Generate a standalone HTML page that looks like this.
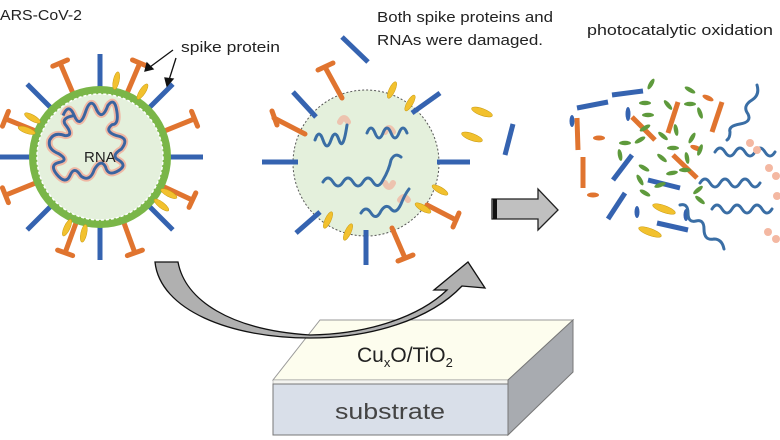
<!DOCTYPE html>
<html><head><meta charset="utf-8"><style>
html,body{margin:0;padding:0;background:#fff;}
svg{display:block;font-family:"Liberation Sans",sans-serif;}
</style></head><body>
<svg width="780" height="440" viewBox="0 0 780 440" xmlns="http://www.w3.org/2000/svg">
<defs>
<g id="bs"><line x1="0" y1="-68" x2="0" y2="-103" stroke="#3563b0" stroke-width="5"/></g>
<g id="os"><line x1="0" y1="-68" x2="0" y2="-101" stroke="#e0742f" stroke-width="5"/><line x1="-8" y1="-102" x2="8" y2="-102" stroke="#e0742f" stroke-width="5" stroke-linecap="round"/></g>
<g id="ys"><ellipse cx="0" cy="-78" rx="3" ry="9" fill="#f2c12e" stroke="#c89a10" stroke-width="0.5"/></g>
<g id="g"><ellipse rx="6" ry="2.2" fill="#5e9a3c"/></g>
</defs>

<text x="0" y="20" font-size="15" fill="#222" textLength="82" lengthAdjust="spacingAndGlyphs">ARS-CoV-2</text>
<text x="181" y="52" font-size="15" fill="#222" textLength="99" lengthAdjust="spacingAndGlyphs">spike protein</text>
<text x="377" y="22" font-size="15" fill="#222" textLength="176" lengthAdjust="spacingAndGlyphs">Both spike proteins and</text>
<text x="377" y="45" font-size="15" fill="#222" textLength="166" lengthAdjust="spacingAndGlyphs">RNAs were damaged.</text>
<text x="587" y="35" font-size="15" fill="#222" textLength="186" lengthAdjust="spacingAndGlyphs">photocatalytic oxidation</text>

<g transform="translate(100,157)">
 <use href="#bs" transform="rotate(0)"/><use href="#os" transform="rotate(23)"/>
 <use href="#bs" transform="rotate(45)"/><use href="#os" transform="rotate(68)"/>
 <use href="#bs" transform="rotate(90)"/><use href="#os" transform="rotate(115)"/>
 <use href="#bs" transform="rotate(135)"/><use href="#os" transform="rotate(160)"/>
 <use href="#bs" transform="rotate(180)"/><use href="#os" transform="rotate(200)"/>
 <use href="#bs" transform="rotate(225)"/><use href="#os" transform="rotate(248)"/>
 <use href="#bs" transform="rotate(270)"/><use href="#os" transform="rotate(292)"/>
 <use href="#bs" transform="rotate(315)"/><use href="#os" transform="rotate(337)"/>
 <circle r="71" fill="#7ab648"/>
 <circle r="63" fill="#e4f0dc" stroke="#fff" stroke-width="1.5" stroke-dasharray="3 2"/>
 <use href="#ys" transform="rotate(12)"/><use href="#ys" transform="rotate(33)"/>
 <use href="#ys" transform="rotate(118)"/><use href="#ys" transform="rotate(128)"/>
 <use href="#ys" transform="rotate(205)"/><use href="#ys" transform="rotate(192)"/>
 <use href="#ys" transform="rotate(290)"/><use href="#ys" transform="rotate(300)"/>
 <g transform="scale(1.12) translate(2,-2)">
 <path d="M-35,-35 q5,-12 10,0 q5,12 10,-3 q5,-15 10,-2 q5,10 10,-4 q6,-8 8,5 q2,12 -4,12 q-8,6 4,10 q12,2 4,12 q-10,6 -2,10 q8,5 -2,10 q-8,4 -10,-4 q-4,-8 -10,2 q-4,12 -12,6 q-6,-10 -10,0 q-4,8 -12,-2 q-6,-8 2,-10 q10,-2 0,-8 q-10,-4 -8,-12 q4,-8 14,-4 q8,0 0,-10 q-4,-6 8,-8" fill="none" stroke="#f0b8a4" stroke-width="6" stroke-linejoin="round"/>
 <path d="M-35,-35 q5,-12 10,0 q5,12 10,-3 q5,-15 10,-2 q5,10 10,-4 q6,-8 8,5 q2,12 -4,12 q-8,6 4,10 q12,2 4,12 q-10,6 -2,10 q8,5 -2,10 q-8,4 -10,-4 q-4,-8 -10,2 q-4,12 -12,6 q-6,-10 -10,0 q-4,8 -12,-2 q-6,-8 2,-10 q10,-2 0,-8 q-10,-4 -8,-12 q4,-8 14,-4 q8,0 0,-10 q-4,-6 8,-8" fill="none" stroke="#3a64a0" stroke-width="2.6" stroke-linejoin="round"/>
 </g>
 <text x="-16" y="5" font-size="15" fill="#222">RNA</text>
</g>
<g stroke="#111" stroke-width="1.3" fill="#111">
 <line x1="173" y1="50" x2="150" y2="67"/><polygon points="145,71 147,63 153,69"/>
 <line x1="176" y1="58" x2="169" y2="80"/><polygon points="167,86 165,78 173,79"/>
</g>

<circle cx="366" cy="163" r="73" fill="#e4f0dc" stroke="#555" stroke-width="1" stroke-dasharray="2 2"/>
<g stroke="#3563b0" stroke-width="5">
 <line x1="342" y1="37" x2="368" y2="62"/><line x1="293" y1="92" x2="316" y2="117"/>
 <line x1="262" y1="162" x2="298" y2="162"/><line x1="437" y1="162" x2="470" y2="162"/>
 <line x1="412" y1="113" x2="440" y2="93"/><line x1="296" y1="233" x2="320" y2="212"/>
 <line x1="366" y1="230" x2="366" y2="265"/><line x1="505" y1="155" x2="513" y2="124"/>
</g>
<g stroke="#e0742f" stroke-width="5" stroke-linecap="round">
 <line x1="325" y1="67" x2="342" y2="98"/><line x1="318" y1="70" x2="333" y2="63"/>
 <line x1="274" y1="118" x2="305" y2="134"/><line x1="272" y1="111" x2="277" y2="125"/>
 <line x1="427" y1="205" x2="456" y2="220"/><line x1="453" y1="227" x2="459" y2="213"/>
 <line x1="392" y1="228" x2="405" y2="258"/><line x1="398" y1="261" x2="413" y2="255"/>
</g>
<g fill="#f2c12e" stroke="#c89a10" stroke-width="0.5">
 <ellipse cx="392" cy="90" rx="3" ry="9" transform="rotate(25 392 90)"/>
 <ellipse cx="410" cy="103" rx="3" ry="9" transform="rotate(30 410 103)"/>
 <ellipse cx="482" cy="112" rx="11" ry="3.5" transform="rotate(20 482 112)"/>
 <ellipse cx="472" cy="137" rx="11" ry="3.5" transform="rotate(20 472 137)"/>
 <ellipse cx="440" cy="190" rx="9" ry="3" transform="rotate(30 440 190)"/>
 <ellipse cx="423" cy="208" rx="9" ry="3" transform="rotate(30 423 208)"/>
 <ellipse cx="328" cy="220" rx="3" ry="9" transform="rotate(25 328 220)"/>
 <ellipse cx="348" cy="232" rx="3" ry="9" transform="rotate(25 348 232)"/>
</g>
<g fill="none" stroke-linecap="round">
 <g stroke="#f0b8a4" stroke-width="6" opacity="0.8">
  <path d="M340,122 q4,-8 8,0"/><path d="M385,132 q4,-8 8,0"/><path d="M385,183 q4,8 8,0"/><path d="M400,200 q4,-6 8,0"/>
 </g>
 <g stroke="#3a6ea5" stroke-width="3">
  <path d="M315,140 q4,-12 8,0 q4,12 8,0 q4,-12 8,0 q4,12 8,-15"/>
  <path d="M367,133 q4,-10 8,0 q4,10 8,0 q4,-10 8,0 q4,10 8,0 q4,-10 8,0"/>
  <path d="M323,182 q5,-8 10,0 q5,8 10,0 q5,-8 10,0 q5,8 10,0 q5,-8 10,0 q5,8 10,-2 q6,-10 8,-20 q4,-8 10,-3"/>
  <path d="M361,213 q5,-8 10,0 q5,8 10,-2 q5,-8 10,-2 q5,6 10,-5 q4,-10 8,-15"/>
 </g>
</g>

<polygon points="492,199 538,199 538,189 558,210 538,230 538,219 492,219" fill="#c0c0c0" stroke="#222" stroke-width="1.3"/>
<rect x="493" y="199" width="4" height="20" fill="#111"/>

<polygon points="320,320 573,320 508,380 273,380" fill="#fdfdee" stroke="#999" stroke-width="1"/>
<polygon points="273,380 508,380 508,384 273,384" fill="#f4f4f0" stroke="#999" stroke-width="0.5"/>
<polygon points="508,380 573,320 573,372 508,435" fill="#a8abb0" stroke="#777" stroke-width="1"/>
<rect x="273" y="384" width="235" height="51" fill="#d9dfe9" stroke="#777" stroke-width="1"/>
<text x="357" y="362" font-size="21" fill="#222">Cu<tspan font-size="13" dy="5">x</tspan><tspan dy="-5">O/TiO</tspan><tspan font-size="13" dy="5">2</tspan></text>
<text x="335" y="419" font-size="22" fill="#444" textLength="110" lengthAdjust="spacingAndGlyphs">substrate</text>

<path d="M155,262 L178,262 C185,300 230,330 310,335 C370,334 420,316 447,290 L434,290 L468,262 L485,288 L462,286 C430,320 370,338 310,338 C230,338 160,310 155,262 Z" fill="#b0b0b0" stroke="#111" stroke-width="1.3"/>

<g stroke="#3563b0" stroke-width="5">
 <line x1="577" y1="108" x2="608" y2="102"/><line x1="612" y1="95" x2="643" y2="91"/>
 <line x1="613" y1="180" x2="632" y2="155"/><line x1="648" y1="180" x2="680" y2="188"/>
 <line x1="608" y1="219" x2="625" y2="193"/><line x1="657" y1="223" x2="688" y2="230"/>
</g>
<g fill="#3563b0">
 <ellipse cx="572" cy="121" rx="2.5" ry="6"/><ellipse cx="628" cy="114" rx="2.5" ry="7"/>
 <ellipse cx="637" cy="212" rx="2.5" ry="6"/><ellipse cx="686" cy="215" rx="2.5" ry="6"/>
</g>
<g stroke="#e0742f" stroke-width="5">
 <line x1="577" y1="118" x2="578" y2="150"/><line x1="583" y1="157" x2="583" y2="188"/>
 <line x1="632" y1="117" x2="655" y2="140"/><line x1="678" y1="102" x2="668" y2="133"/>
 <line x1="722" y1="102" x2="712" y2="132"/><line x1="673" y1="155" x2="697" y2="178"/>
</g>
<g fill="#e0742f">
 <ellipse cx="599" cy="138" rx="6" ry="2.5"/><ellipse cx="593" cy="195" rx="6" ry="2.5"/>
 <ellipse cx="708" cy="98" rx="6" ry="2.5" transform="rotate(25 708 98)"/><ellipse cx="696" cy="148" rx="6" ry="2.5" transform="rotate(20 696 148)"/>
</g>
<g fill="#f2c12e" stroke="#c89a10" stroke-width="0.5">
 <ellipse cx="664" cy="209" rx="12" ry="3.5" transform="rotate(20 664 209)"/>
 <ellipse cx="650" cy="232" rx="12" ry="3.5" transform="rotate(20 650 232)"/>
</g>
<g>
 <use href="#g" transform="translate(651,84) rotate(-60)"/><use href="#g" transform="translate(690,90) rotate(30)"/>
 <use href="#g" transform="translate(645,103)"/><use href="#g" transform="translate(668,105) rotate(50)"/>
 <use href="#g" transform="translate(690,104)"/><use href="#g" transform="translate(648,115)"/>
 <use href="#g" transform="translate(700,113) rotate(70)"/><use href="#g" transform="translate(645,128) rotate(-30)"/>
 <use href="#g" transform="translate(676,130) rotate(80)"/><use href="#g" transform="translate(663,136) rotate(40)"/>
 <use href="#g" transform="translate(640,140) rotate(-30)"/><use href="#g" transform="translate(625,143)"/>
 <use href="#g" transform="translate(692,138) rotate(-60)"/><use href="#g" transform="translate(700,150) rotate(-70)"/>
 <use href="#g" transform="translate(620,155) rotate(80)"/><use href="#g" transform="translate(673,148)"/>
 <use href="#g" transform="translate(662,158) rotate(40)"/><use href="#g" transform="translate(687,158) rotate(80)"/>
 <use href="#g" transform="translate(685,170)"/><use href="#g" transform="translate(644,168) rotate(30)"/>
 <use href="#g" transform="translate(672,173) rotate(-10)"/><use href="#g" transform="translate(645,193) rotate(30)"/>
 <use href="#g" transform="translate(698,190) rotate(-40)"/><use href="#g" transform="translate(700,200) rotate(40)"/>
 <use href="#g" transform="translate(640,180) rotate(60)"/><use href="#g" transform="translate(660,185) rotate(-20)"/>
</g>
<g fill="none" stroke="#3a6ea5" stroke-width="3" stroke-linecap="round">
 <path d="M757,85 q3,10 -5,15 q-10,6 -4,14 q4,8 -8,10 q-12,2 -10,8 q0,6 -3,8"/>
 <path d="M715,152 q5,-8 10,0 q5,8 10,0 q5,-8 10,0 q5,8 10,0 q5,-8 10,0 q5,8 10,0"/>
 <path d="M700,183 q5,-8 10,0 q5,8 10,0 q5,-8 10,0 q5,8 10,0 q5,-8 10,0 q5,8 10,0"/>
 <path d="M712,209 q5,-8 10,0 q5,8 10,0 q5,-8 10,0 q5,8 10,0 q5,-8 10,0 q5,8 10,0"/>
 <path d="M680,205 q8,-2 8,8 q0,10 8,8 q8,-2 8,8 q0,12 10,10 q8,0 10,10"/>
</g>
<g fill="#f4b8a2">
 <circle cx="750" cy="143" r="4"/><circle cx="757" cy="150" r="4"/>
 <circle cx="769" cy="168" r="4"/><circle cx="776" cy="176" r="4"/>
 <circle cx="777" cy="196" r="4"/>
 <circle cx="768" cy="232" r="4"/><circle cx="776" cy="239" r="4"/>
</g>
</svg>
</body></html>
